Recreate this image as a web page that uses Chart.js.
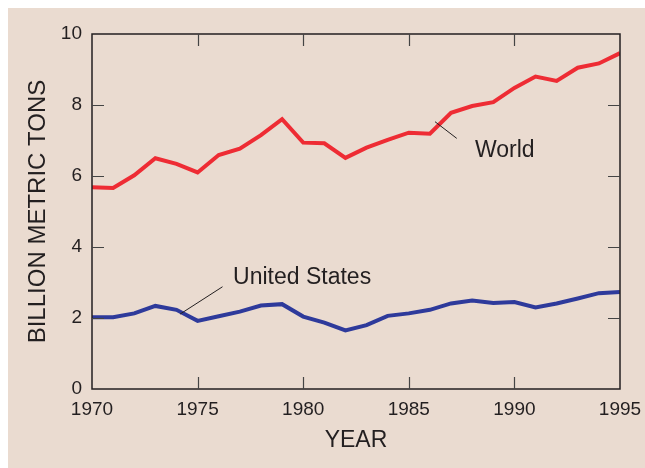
<!DOCTYPE html>
<html>
<head>
	<meta charset="UTF-8">
	<title>Billion metric tons</title>
	<script src="https://cdn.jsdelivr.net/npm/chart.js@4.4.1/dist/chart.umd.min.js"></script>
	<style>
		html, body { margin: 0; padding: 0; background: #ffffff; overflow: hidden; width: 645px; height: 468px; }
		#wrap { position: absolute; left: 8px; top: 8px; width: 637px; height: 460px; background: #eadbd0; }
	</style>
</head>
<body>
	<div id="wrap"><canvas id="chart" width="637" height="460"></canvas></div>

	<script>
		var years = [1970, 1971, 1972, 1973, 1974, 1975, 1976, 1977, 1978, 1979, 1980, 1981, 1982,
			1983, 1984, 1985, 1986, 1987, 1988, 1989, 1990, 1991, 1992, 1993, 1994, 1995];
		var world = [5.68, 5.66, 6.02, 6.50, 6.34, 6.10, 6.59, 6.77, 7.15, 7.60, 6.94, 6.92, 6.51,
			6.80, 7.02, 7.22, 7.19, 7.78, 7.97, 8.08, 8.48, 8.80, 8.68, 9.05, 9.17, 9.46];
		var usa = [2.02, 2.02, 2.13, 2.34, 2.23, 1.92, 2.05, 2.18, 2.35, 2.39, 2.04, 1.87, 1.65,
			1.80, 2.06, 2.13, 2.23, 2.41, 2.49, 2.42, 2.45, 2.30, 2.41, 2.55, 2.70, 2.73];
		var xTicks = [1970, 1975, 1980, 1985, 1990, 1995];
		var yTicks = [0, 2, 4, 6, 8, 10];

		var ink = '#231f20';
		var tickFont = "'Liberation Sans Narrow', 'Liberation Sans', Arial, sans-serif";
		var textFont = "'Liberation Sans', Arial, sans-serif";

		function pts(vals) {
			return years.map(function (y, i) { return { x: y, y: vals[i] }; });
		}

		// frame, inside tick marks and the two callouts
		var extras = {
			id: 'extras',
			afterDatasetsDraw: function (chart) {
				var c = chart.ctx, a = chart.chartArea;
				var xs = chart.scales.x, ys = chart.scales.y;
				c.save();
				c.strokeStyle = ink;
				c.lineWidth = 1.5;
				c.strokeRect(a.left, a.top, a.right - a.left, a.bottom - a.top);
				c.lineWidth = 1.2;
				c.strokeStyle = '#444';
				xTicks.slice(1, -1).forEach(function (v) {
					var px = Math.round(xs.getPixelForValue(v)) + 0.5;
					c.beginPath();
					c.moveTo(px, a.bottom); c.lineTo(px, a.bottom - 12);
					c.moveTo(px, a.top); c.lineTo(px, a.top + 12);
					c.stroke();
				});
				yTicks.slice(1, -1).forEach(function (v) {
					var py = Math.round(ys.getPixelForValue(v)) + 0.5;
					c.beginPath();
					c.moveTo(a.left, py); c.lineTo(a.left + 12, py);
					c.moveTo(a.right, py); c.lineTo(a.right - 12, py);
					c.stroke();
				});

				// callouts
				c.strokeStyle = ink;
				c.lineWidth = 1;
				c.beginPath();
				c.moveTo(xs.getPixelForValue(1986.24), ys.getPixelForValue(7.53));
				c.lineTo(xs.getPixelForValue(1987.27), ys.getPixelForValue(7.06));
				c.moveTo(xs.getPixelForValue(1974.17), ys.getPixelForValue(2.11));
				c.lineTo(xs.getPixelForValue(1976.18), ys.getPixelForValue(2.88));
				c.stroke();
				c.fillStyle = ink;
				c.font = '23px ' + textFont;
				c.textBaseline = 'middle';
				c.textAlign = 'left';
				c.fillText('World', xs.getPixelForValue(1988.13), ys.getPixelForValue(6.70));
				c.fillText('United States', xs.getPixelForValue(1976.68), ys.getPixelForValue(3.13));
				c.restore();
			}
		};

		new Chart(document.getElementById('chart'), {
			type: 'line',
			data: {
				datasets: [{
					label: 'World',
					data: pts(world),
					borderColor: '#ee2c34',
					borderWidth: 4,
					pointRadius: 0,
					tension: 0,
					fill: false
				}, {
					label: 'United States',
					data: pts(usa),
					borderColor: '#2e3a9b',
					borderWidth: 4,
					pointRadius: 0,
					tension: 0,
					fill: false
				}]
			},
			options: {
				responsive: false,
				animation: false,
				layout: { padding: { left: 0, right: 25, top: 26, bottom: 0 } },
				plugins: {
					legend: { display: false },
					tooltip: { enabled: false }
				},
				scales: {
					x: {
						type: 'linear',
						min: 1970,
						max: 1995,
						afterBuildTicks: function (s) { s.ticks = xTicks.map(function (v) { return { value: v }; }); },
						afterFit: function (s) {
							s.height = 79;
							s.paddingLeft = 0;
							s.paddingRight = 0;
						},
						grid: { display: false, drawTicks: false },
						border: { display: false },
						ticks: {
							color: ink,
							padding: 9,
							maxRotation: 0,
							font: { family: tickFont, size: 19 },
							callback: function (v) { return String(v); }
						},
						title: {
							display: true,
							text: 'YEAR',
							color: ink,
							font: { family: textFont, size: 23 },
							padding: { top: 14, bottom: 14 }
						}
					},
					y: {
						min: 0,
						max: 10,
						afterBuildTicks: function (s) { s.ticks = yTicks.map(function (v) { return { value: v }; }); },
						afterFit: function (s) {
							s.width = 84;
							s.paddingTop = 0;
							s.paddingBottom = 0;
						},
						grid: { display: false, drawTicks: false },
						border: { display: false },
						ticks: {
							color: ink,
							padding: 10,
							font: { family: tickFont, size: 19 }
						},
						title: {
							display: true,
							text: 'BILLION METRIC TONS',
							color: ink,
							font: { family: textFont, size: 24 },
							padding: { top: 16, bottom: 0 }
						}
					}
				}
			},
			plugins: [extras]
		});
	</script>
</body>
</html>
